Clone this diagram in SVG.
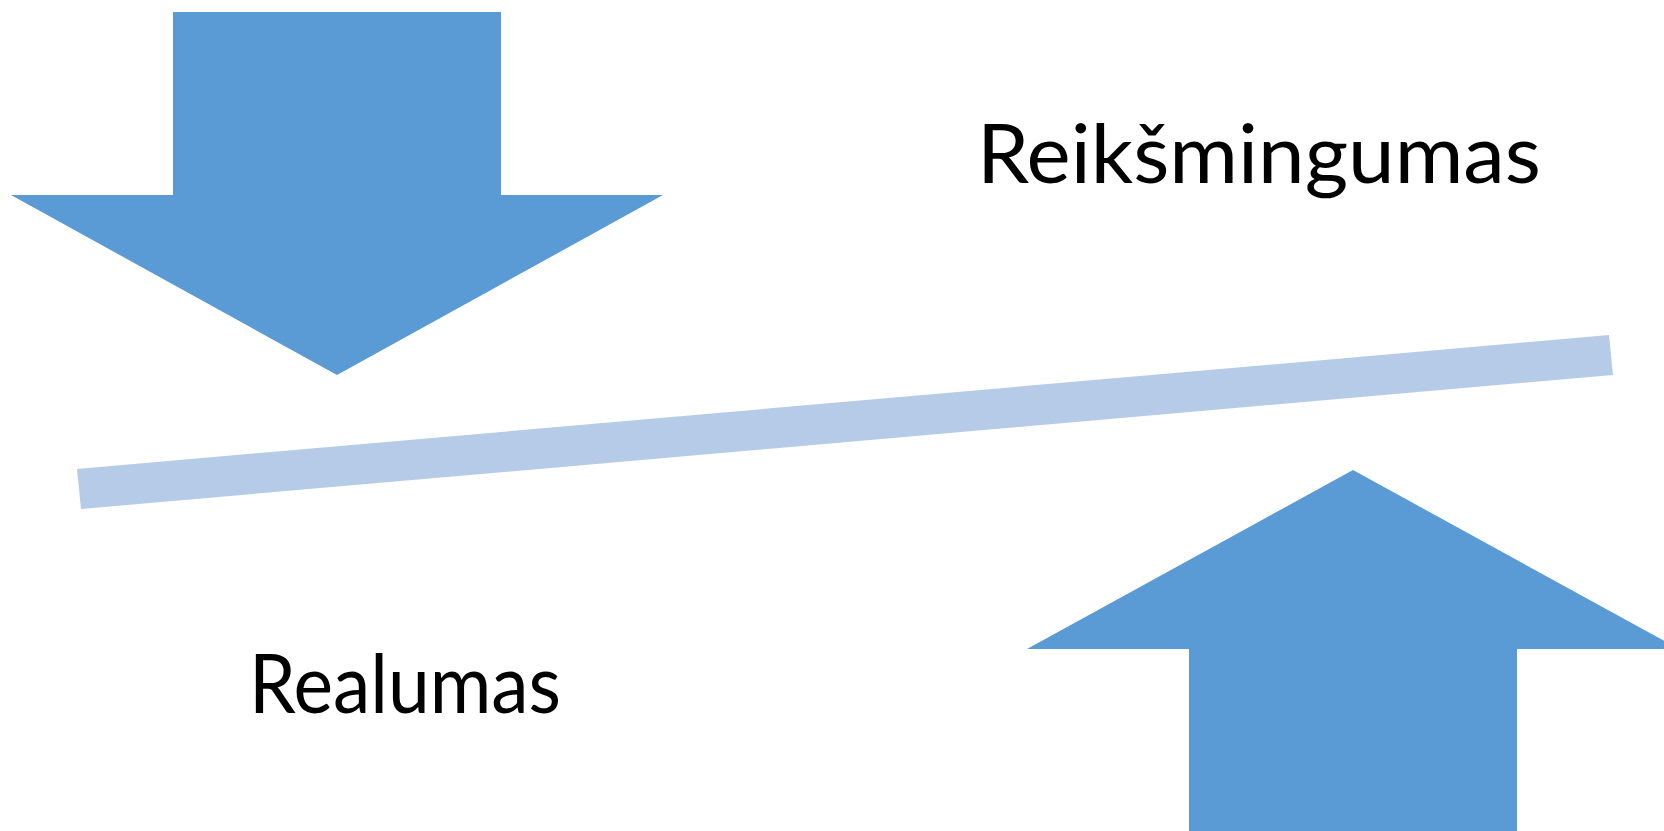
<svg xmlns="http://www.w3.org/2000/svg" width="1664" height="831" viewBox="0 0 1664 831">
  <style>
    .arrow { fill: #5B9BD5; }
    .beam { fill: #B6CBE7; }
    .label { font-family: Lato, "Open Sans", "Liberation Sans", sans-serif; font-size: 81px; fill: #000000; }
  </style>
  <rect width="1664" height="831" fill="#ffffff"/>

  <!-- tilted balance beam -->
  <g id="beam">
    <polygon class="beam" points="77,469 1609,335 1613,375 81,509"/>
  </g>

  <!-- downward block arrow, top left -->
  <g id="arrow-down">
    <polygon class="arrow" points="173,12 501,12 501,195 663,195 337,375 11,195 173,195"/>
  </g>

  <!-- upward block arrow, bottom right -->
  <g id="arrow-up">
    <polygon class="arrow" points="1353,470 1679,649 1517,649 1517,831 1189,831 1189,649 1027,649"/>
  </g>

  <g id="label-reiksmingumas">
    <text class="label" x="977" y="183" textLength="564" lengthAdjust="spacingAndGlyphs">Reikšmingumas</text>
  </g>

  <g id="label-realumas">
    <text class="label" x="249" y="713" textLength="312" lengthAdjust="spacingAndGlyphs">Realumas</text>
  </g>
</svg>
